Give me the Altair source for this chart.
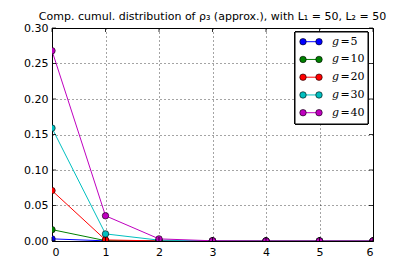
import altair as alt
import pandas as pd

# ---- data ----
x_vals = [0, 1, 2, 3, 4, 5, 6]
g_names = ["g = 5", "g = 10", "g = 20", "g = 30", "g = 40"]
g_nums = ["5", "10", "20", "30", "40"]
y_g5 = [0.003, 0.0002, 0.0, 0.0, 0.0, 0.0, 0.0]
y_g10 = [0.016, 0.0005, 0.0, 0.0, 0.0, 0.0, 0.0]
y_g20 = [0.071, 0.0015, 0.0001, 0.0, 0.0, 0.0, 0.0]
y_g30 = [0.159, 0.010, 0.0012, 0.0001, 0.0, 0.0, 0.0]
y_g40 = [0.268, 0.0355, 0.003, 0.0003, 0.0, 0.0, 0.0]
colors = ["#0000ff", "#008000", "#ff0000", "#00bfbf", "#bf00bf"]
x_ticks = [0, 1, 2, 3, 4, 5, 6]
y_ticks = [0.0, 0.05, 0.10, 0.15, 0.20, 0.25, 0.30]
title = "Comp. cumul. distribution of ρ₃ (approx.), with L₁ = 50, L₂ = 50"

series = [y_g5, y_g10, y_g20, y_g30, y_g40]
rows = []
for i, (name, vals) in enumerate(zip(g_names, series)):
    for xv, yv in zip(x_vals, vals):
        rows.append({"x": xv, "y": yv, "g": name, "o": i})
df = pd.DataFrame(rows)
leg = pd.DataFrame({"g": g_names, "num": g_nums, "i": list(range(len(g_names)))})
xt = pd.DataFrame({"t": x_ticks})
yt = pd.DataFrame({"t": y_ticks})

W, H = 321, 213
xscale = alt.Scale(domain=[0, 6], nice=False, zero=False)
yscale = alt.Scale(domain=[0, 0.30], nice=False)
color = alt.Color("g:N", scale=alt.Scale(domain=g_names, range=colors), legend=None)

AX = alt.Axis(values=x_ticks, format="d", tickSize=0, labelPadding=5,
              labelOverlap=False, title=None)
AY = alt.Axis(values=y_ticks, format=".2f", tickSize=0, labelPadding=4,
              labelOverlap=False, title=None)


def xe(f):
    return alt.X(f, scale=xscale, axis=AX, title=None)


def ye(f):
    return alt.Y(f, scale=yscale, axis=AY, title=None)


base = alt.Chart(df)
lines = base.mark_line(clip=True, strokeWidth=1).encode(
    x=xe("x:Q"), y=ye("y:Q"), color=color, order="x:Q", detail="g:N")
points = base.mark_point(filled=True, clip=True, size=42, stroke="black",
                         strokeWidth=0.6, opacity=1).encode(
    x=xe("x:Q"), y=ye("y:Q"), color=color)

tl = 4
xtick_b = alt.Chart(xt).mark_rule(color="black", strokeWidth=0.8).encode(
    x=xe("t:Q"), y=alt.value(H), y2=alt.value(H - tl))
xtick_t = alt.Chart(xt).mark_rule(color="black", strokeWidth=0.8).encode(
    x=xe("t:Q"), y=alt.value(0), y2=alt.value(tl))
ytick_l = alt.Chart(yt).mark_rule(color="black", strokeWidth=0.8).encode(
    y=ye("t:Q"), x=alt.value(0), x2=alt.value(tl))
ytick_r = alt.Chart(yt).mark_rule(color="black", strokeWidth=0.8).encode(
    y=ye("t:Q"), x=alt.value(W), x2=alt.value(W - tl))

# ---- hand-made legend (line + two markers + label) ----
lx0, lx1 = 243, 316
ly0, ly1 = 4, 96
py0, pstep = 13.7, 17.75
leg_base = alt.Chart(leg).transform_calculate(py=f"{py0} + {pstep} * datum.i")
box = alt.Chart(leg).mark_rect(fill="white", stroke="black", strokeWidth=1).encode(
    x=alt.value(lx0), x2=alt.value(lx1), y=alt.value(ly0), y2=alt.value(ly1))
leg_line = leg_base.mark_rule(strokeWidth=1).encode(
    x=alt.value(251), x2=alt.value(267), y=alt.Y("py:Q", scale=None), color=color)
leg_p1 = leg_base.mark_point(filled=True, size=42, stroke="black", strokeWidth=0.6,
                             opacity=1).encode(
    x=alt.value(251), y=alt.Y("py:Q", scale=None), color=color)
leg_p2 = leg_base.mark_point(filled=True, size=42, stroke="black", strokeWidth=0.6,
                             opacity=1).encode(
    x=alt.value(267), y=alt.Y("py:Q", scale=None), color=color)
leg_g = leg_base.transform_calculate(lab="'g'").mark_text(
    font="DejaVu Serif", fontStyle="italic", fontSize=11, align="left",
    baseline="middle", color="black").encode(
    x=alt.value(280), y=alt.Y("py:Q", scale=None), text="lab:N")
leg_eq = leg_base.transform_calculate(lab="'='").mark_text(
    font="DejaVu Serif", fontSize=11, align="left", baseline="middle",
    color="black").encode(
    x=alt.value(288.5), y=alt.Y("py:Q", scale=None), text="lab:N")
leg_n = leg_base.mark_text(
    font="DejaVu Serif", fontSize=11, align="left", baseline="middle",
    color="black").encode(
    x=alt.value(298.5), y=alt.Y("py:Q", scale=None), text="num:N")

chart = alt.layer(
    lines, points, xtick_b, xtick_t, ytick_l, ytick_r,
    box, leg_line, leg_p1, leg_p2, leg_g, leg_eq, leg_n
).properties(
    width=W, height=H,
    title=alt.TitleParams(title, font="DejaVu Sans", fontSize=11,
                          fontWeight="normal", anchor="middle", offset=0,
                          frame="group", color="black"),
    autosize=alt.AutoSizeParams(type="none"),
    padding={"left": 44, "top": 20, "right": 20, "bottom": 30},
).configure_view(
    stroke="black", strokeWidth=1
).configure_axis(
    domain=False, grid=True, gridColor="black", gridDash=[1, 3],
    gridWidth=0.8, gridOpacity=0.9, labelFont="DejaVu Sans", labelFontSize=11,
    labelColor="black"
)

chart.save("out.html", embed_options={"renderer": "svg", "actions": False})
